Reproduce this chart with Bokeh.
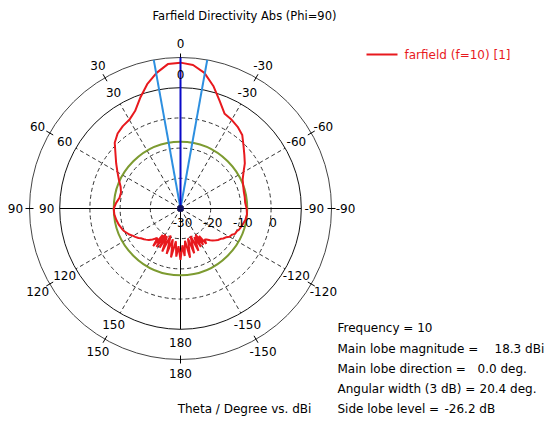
import math
from bokeh.plotting import figure
from bokeh.models import Range1d
from bokeh.embed import file_html
from bokeh.resources import INLINE
from bokeh.core.properties import value

# ---------------- data ----------------
title_text = "Farfield Directivity Abs (Phi=90)"
axis_text = "Theta / Degree vs. dBi"
legend_text = "farfield (f=10) [1]"

theta_deg = [
    -180, -177, -175, -172, -169, -166, -163, -160, -157, -154, -152, -150,
    -148, -146, -144, -142, -140, -137, -135, -132, -130, -127, -125, -122,
    -120, -117, -115, -112, -110, -105, -100, -95, -90, -85, -80, -75, -70,
    -65, -60, -55, -50, -45, -40, -35, -30, -25, -20, -15, -10, -5,
    0, 5, 10, 15, 20, 25, 30, 35, 40, 45, 50, 55, 60, 65, 70, 75, 80, 85,
    90, 95, 100, 105, 110, 112, 115, 117, 120, 122, 125, 127, 130, 132, 135,
    138, 140, 142, 144, 146, 148, 150, 152, 154, 157, 160, 163, 166, 169,
    172, 175, 177, 180,
]
directivity_db = [
    -13.0, -17.8, -14.2, -19.2, -13.4, -19.8, -14.5, -20.3, -14.8, -19.5, -15.6, -20.0,
    -15.8, -19.0, -15.5, -17.0, -16.6, -15.6, -15.0, -14.3, -13.8, -13.3, -12.7, -12.1,
    -11.3, -10.9, -10.1, -9.9, -9.4, -8.8, -8.2, -7.9, -8.1, -8.5, -8.4, -8.3, -7.9,
    -7.3, -5.9, -4.0, -2.4, -0.5, 1.8, 3.0, 3.9, 4.6, 7.9, 12.0, 15.6, 17.7,
    18.3, 18.0, 15.6, 12.6, 9.0, 5.6, 3.9, 3.3, 2.4, 0.8, -1.9, -4.0, -5.9, -7.5,
    -8.9, -9.6, -9.5, -8.6,
    -7.9, -8.0, -8.4, -8.9, -9.6, -9.9, -10.6, -11.0, -11.9, -12.3, -13.0, -13.6,
    -14.2, -14.6, -15.2,
    -16.2, -17.0, -17.6, -14.6, -19.5, -15.0, -20.0, -15.3, -19.8, -14.5, -20.5,
    -14.3, -19.5, -13.5, -19.0, -14.0, -17.5, -13.0,
]

frequency = 10
main_lobe_magnitude = 18.3      # dBi
main_lobe_direction = 0.0       # deg
angular_width_3db = 20.4        # deg
side_lobe_level = -26.2         # dB

dashed_rings_db = [-20, -10, 0]
solid_rings_db = [10, 20]
angle_ticks = [0, 30, 60, 90, 120, 150, 180, -150, -120, -90, -60, -30]
radial_tick_db = [-30, -20, -10, 0]

# ---------------- scale (polar -> cartesian) ----------------
DB_MIN = -30.0
PX_PER_DB = 3.02


def rad(db):
    return max(db - DB_MIN, 0.0) * PX_PER_DB


def xy(theta, r):
    t = math.radians(theta)
    return -r * math.sin(t), r * math.cos(t)


FONT = value("DejaVu Sans")
FS = "12px"

p = figure(width=544, height=421, x_range=Range1d(-180, 364), y_range=Range1d(-213, 208),
           output_backend="svg", toolbar_location=None, x_axis_type=None, y_axis_type=None,
           min_border=0)
p.grid.visible = False
p.outline_line_color = None
p.background_fill_color = "white"

r_inner = rad(solid_rings_db[0])
r_outer = rad(solid_rings_db[1])

# dashed rings
p.circle(x=[0] * len(dashed_rings_db), y=[0] * len(dashed_rings_db),
         radius=[rad(d) for d in dashed_rings_db], fill_color=None,
         line_color="#333333", line_dash="4 3", line_width=1)
# solid rings
p.circle(x=[0, 0], y=[0, 0], radius=[r_inner, r_outer], fill_color=None,
         line_color=["#111111", "#444444"], line_width=1)

# radial dashed spokes
sp = [a for a in angle_ticks if a % 90 != 0]
x1 = [xy(a, r_inner)[0] for a in sp]
y1 = [xy(a, r_inner)[1] for a in sp]
p.segment(x0=[0] * len(sp), y0=[0] * len(sp), x1=x1, y1=y1,
          line_color="#333333", line_dash="4 3", line_width=1)
# solid axes
p.segment(x0=[-r_inner, 0], y0=[0, -r_inner], x1=[r_inner, 0], y1=[0, r_inner],
          line_color="black", line_width=1)
# ticks on outer ring
tx0 = [xy(a, r_outer - 4)[0] for a in angle_ticks]
ty0 = [xy(a, r_outer - 4)[1] for a in angle_ticks]
tx1 = [xy(a, r_outer + 4)[0] for a in angle_ticks]
ty1 = [xy(a, r_outer + 4)[1] for a in angle_ticks]
p.segment(x0=tx0, y0=ty0, x1=tx1, y1=ty1, line_color="black", line_width=1)

# side lobe level circle
r_sll = rad(main_lobe_magnitude + side_lobe_level)
p.circle(x=[0], y=[0], radius=[r_sll], fill_color=None, line_color="#7d9b31", line_width=2)

# farfield curve
cx = [xy(t, rad(d))[0] for t, d in zip(theta_deg, directivity_db)]
cy = [xy(t, rad(d))[1] for t, d in zip(theta_deg, directivity_db)]
p.line(cx, cy, line_color="#e8191e", line_width=2)

# main lobe and 3 dB beamwidth lines
half = angular_width_3db / 2
bx = [xy(a, r_outer)[0] for a in (half, -half)]
by = [xy(a, r_outer)[1] for a in (half, -half)]
p.segment(x0=[0, 0], y0=[0, 0], x1=bx, y1=by, line_color="#2d8fe0", line_width=2)
mx, my = xy(main_lobe_direction, r_outer)
p.segment(x0=[0], y0=[0], x1=[mx], y1=[my], line_color="#0a0ac8", line_width=2)
p.scatter(x=[0], y=[0], size=6, color="#101060")

# angle labels
ix = [xy(a, r_inner + 13)[0] for a in angle_ticks]
iy = [xy(a, r_inner + 13)[1] for a in angle_ticks]
ox = [xy(a, r_outer + 14)[0] for a in angle_ticks]
oy = [xy(a, r_outer + 14)[1] for a in angle_ticks]
labels = [str(a) for a in angle_ticks]
p.text(x=ix, y=iy, text=labels, text_align="center", text_baseline="middle",
       text_font=FONT, text_font_size="12px", text_color="black")
p.text(x=ox, y=oy, text=labels, text_align="center", text_baseline="middle",
       text_font=FONT, text_font_size="12px", text_color="black")

# radial dB labels
p.text(x=[rad(d) + 2 for d in radial_tick_db], y=[-14] * len(radial_tick_db),
       text=[str(d) for d in radial_tick_db], text_align="center", text_baseline="middle",
       text_font=FONT, text_font_size="12px", text_color="black")

# title and axis caption
p.text(x=[64], y=[193], text=[title_text], text_align="center", text_baseline="middle",
       text_font=FONT, text_font_size="11.5px", text_color="black")
p.text(x=[64], y=[-200], text=[axis_text], text_align="center", text_baseline="middle",
       text_font=FONT, text_font_size=FS, text_color="black")

# legend
p.segment(x0=[186], y0=[154], x1=[217], y1=[154], line_color="#e8191e", line_width=2)
p.text(x=[224], y=[154], text=[legend_text], text_align="left", text_baseline="middle",
       text_font=FONT, text_font_size=FS, text_color="#e8191e")

# info block
info_y = [-119, -140, -160, -180, -200]
info_left = ["Frequency = %d" % frequency, "Main lobe magnitude =", "Main lobe direction =",
             "Angular width (3 dB) =", "Side lobe level ="]
p.text(x=[157] * 5, y=info_y, text=info_left, text_align="left", text_baseline="middle",
       text_font=FONT, text_font_size=FS, text_color="black")
info_vals = ["%.1f dBi" % main_lobe_magnitude, "%.1f deg." % main_lobe_direction,
             "%.1f deg." % angular_width_3db, "%.1f dB" % side_lobe_level]
p.text(x=[314, 297, 299, 264], y=info_y[1:], text=info_vals, text_align="left",
       text_baseline="middle", text_font=FONT, text_font_size=FS, text_color="black")

open("out.html", "w").write(file_html(p, INLINE))
